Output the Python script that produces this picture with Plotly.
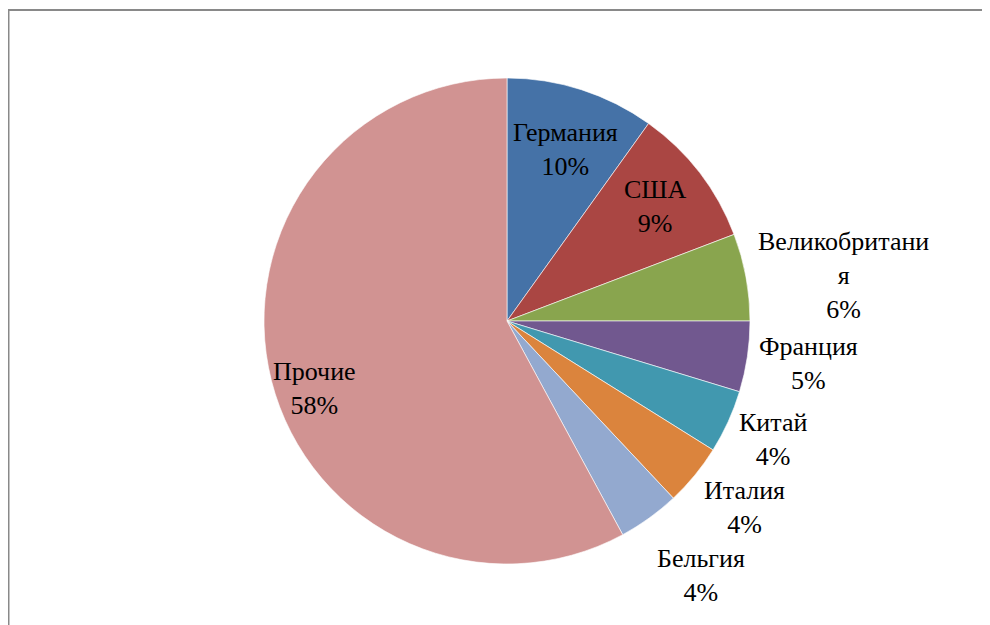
import math
import plotly.graph_objects as go

countries = ["Германия", "США", "Великобритания", "Франция", "Китай", "Италия", "Бельгия", "Прочие"]
label_text = ["Германия", "США", "Великобритани<br>я", "Франция", "Китай", "Италия", "Бельгия", "Прочие"]
shares = [9.9, 9.3, 5.8, 4.7, 4.2, 4.1, 4.1, 57.9]
colors = ["#4572A7", "#AA4643", "#89A54E", "#71588F", "#4198AF", "#DB843D", "#93A9CF", "#D19392"]
label_place = ["inside", "inside", "outside", "outside", "outside", "outside", "outside", "inside"]
inside_frac = {0: 0.745, 1: 0.77, 7: 0.84}
inside_turn_deg = {0: 1.0, 1: 0.0, 7: -5.0}

W, H = 990, 625
ML, MR, MT, MB = 16, 8, 70, 69
FS = 26
LH = 1.3 * FS
GAP = 10

pw = W - ML - MR
ph = H - MT - MB
R = min(pw, ph) / 2
cx = ML + pw / 2
cy = MT + ph / 2

def to_paper(X, Y):
    return (X - ML) / pw, 1 - (Y - MT) / ph

fig = go.Figure(go.Pie(
    labels=countries,
    values=shares,
    textinfo="none",
    sort=False,
    direction="clockwise",
    rotation=0,
    marker=dict(colors=colors, line=dict(color="rgba(255,255,255,0.6)", width=1)),
    showlegend=False,
    hoverinfo="label+percent",
    automargin=False,
))

total = sum(shares)
cum = 0.0
prev_bottom = {1: -1e9, -1: -1e9}
for i, v in enumerate(shares):
    mid = (cum + v / 2) / total * 2 * math.pi
    cum += v
    pct = round(v / total * 100)
    txt = f"{label_text[i]}<br>{pct}%"
    if label_place[i] == "inside":
        a = mid + math.radians(inside_turn_deg[i])
        r = inside_frac[i] * R
        X, Y = cx + r * math.sin(a), cy - r * math.cos(a)
        xa = "center"
    else:
        s, c = math.sin(mid), math.cos(mid)
        nlines = txt.count("<br>") + 1
        half_h = nlines * LH / 2
        X, Y = cx + (R + GAP) * s, cy - (R + GAP) * c
        Y -= half_h * min(c, 0)
        side = 1 if s > 0 else -1
        if Y - half_h < prev_bottom[side]:
            Y = prev_bottom[side] + half_h
        prev_bottom[side] = Y + half_h
        xa = "left" if side > 0 else "right"
    px_, py_ = to_paper(X, Y)
    fig.add_annotation(x=px_, y=py_, xref="paper", yref="paper", text=txt,
                       showarrow=False, xanchor=xa, yanchor="middle", align="center",
                       font=dict(family="Liberation Serif", size=FS, color="#000000"))

fx0, fy0 = to_paper(0.5, 2)
fx1, _ = to_paper(W + 40, 2)
_, fyb = to_paper(0.5, H + 40)
fig.add_shape(type="path", xref="paper", yref="paper",
              path=f"M {fx0} {fyb} L {fx0} {fy0} L {fx1} {fy0}",
              line=dict(color="#898989", width=2))

fig.update_layout(
    width=W, height=H,
    margin=dict(l=ML, r=MR, t=MT, b=MB, autoexpand=False),
    paper_bgcolor="white", plot_bgcolor="white",
    font=dict(family="Liberation Serif", size=FS, color="#000000"),
)
fig.write_html("out.html")
